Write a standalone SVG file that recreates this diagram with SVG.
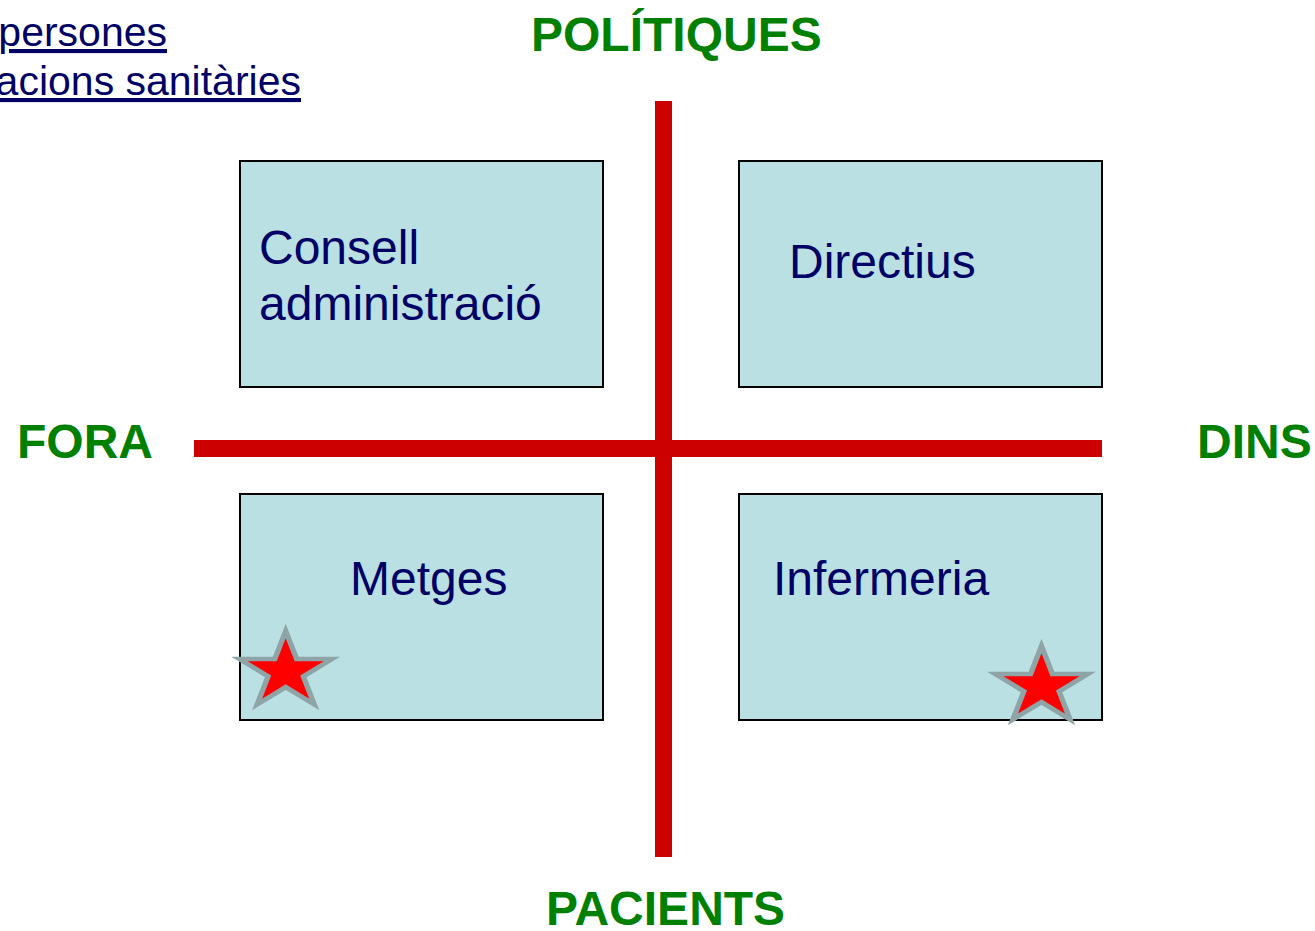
<svg xmlns="http://www.w3.org/2000/svg" width="1315" height="931" viewBox="0 0 1315 931">
<style>
.box{fill:#BAE0E3;stroke:#000;stroke-width:2}
.lbl{font-family:"Liberation Sans",Arial,sans-serif;font-size:48px;fill:#000066}
.axis{font-family:"Liberation Sans",Arial,sans-serif;font-size:48px;font-weight:bold;fill:#008000}
.link{font-family:"Liberation Sans",Arial,sans-serif;font-size:41px;fill:#000066;text-decoration:underline;text-anchor:end}
.line{stroke:#CC0000;stroke-width:17;fill:none}
.star{fill:#FF0000;stroke:#8EA4A6;stroke-width:5}
</style>
<defs>
<polygon id="star" points="0,-1 0.2245,-0.309 0.951,-0.309 0.363,0.118 0.588,0.809 0,0.382 -0.588,0.809 -0.363,0.118 -0.951,-0.309 -0.2245,-0.309"/>
</defs>
<g id="header">
<text class="link" x="167" y="46">persones</text>
<text class="link" x="301" y="95">acions sanitàries</text>
</g>
<g id="connectors">
<line class="line" x1="663.5" y1="101" x2="663.5" y2="857"/>
<line class="line" x1="194" y1="448.5" x2="1102" y2="448.5"/>
</g>
<g id="node-consell">
<rect class="box" x="240" y="161" width="363" height="226"/>
<text class="lbl" x="259" y="264">Consell</text>
<text class="lbl" x="259" y="320">administració</text>
</g>
<g id="node-directius">
<rect class="box" x="739" y="161" width="363" height="226"/>
<text class="lbl" x="789" y="278">Directius</text>
</g>
<g id="node-metges">
<rect class="box" x="240" y="494" width="363" height="226"/>
<text class="lbl" x="350" y="595">Metges</text>
<g transform="translate(285.7,671.6) scale(48.6,40.6)"><use href="#star" class="star" style="stroke-width:0.11"/></g>
</g>
<g id="node-infermeria">
<rect class="box" x="739" y="494" width="363" height="226"/>
<text class="lbl" x="773" y="595">Infermeria</text>
<g transform="translate(1041.5,686.6) scale(48.6,40.6)"><use href="#star" class="star" style="stroke-width:0.11"/></g>
</g>
<g id="label-politiques"><text class="axis" x="531" y="51">POLÍTIQUES</text></g>
<g id="label-fora"><text class="axis" x="17" y="458">FORA</text></g>
<g id="label-dins"><text class="axis" x="1197" y="458">DINS</text></g>
<g id="label-pacients"><text class="axis" x="546" y="925">PACIENTS</text></g>
</svg>
